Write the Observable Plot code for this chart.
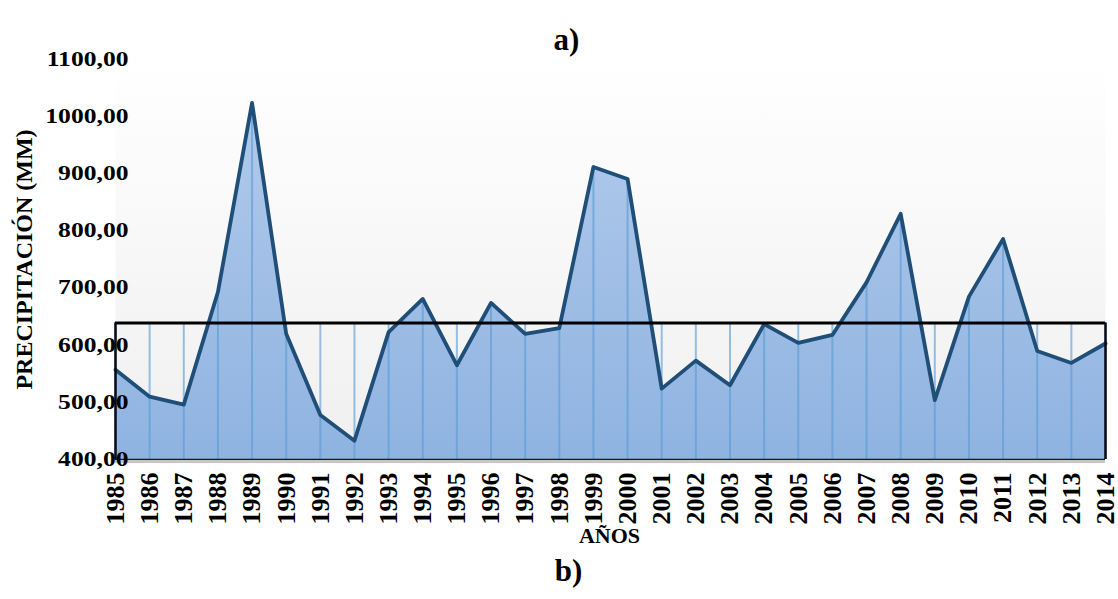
<!DOCTYPE html>
<html>
<head>
<meta charset="utf-8">
<script src="https://cdn.jsdelivr.net/npm/d3@7"></script>
<script src="https://cdn.jsdelivr.net/npm/@observablehq/plot@0.6"></script>
<style>
  body { margin: 0; background: #ffffff; }
  #chart svg { display: block; }
</style>
</head>
<body>
<div id="chart"></div>
<script>
// Annual precipitation (mm), 1985–2014
const years = [1985, 1986, 1987, 1988, 1989, 1990, 1991, 1992, 1993, 1994,
               1995, 1996, 1997, 1998, 1999, 2000, 2001, 2002, 2003, 2004,
               2005, 2006, 2007, 2008, 2009, 2010, 2011, 2012, 2013, 2014];
const precipitation = [557, 510, 496, 693, 1024, 620, 478, 433, 623, 681,
                       565, 674, 620, 630, 912, 891, 524, 573, 530, 637,
                       604, 618, 710, 830, 504, 685, 786, 590, 569, 603];
const yTicks = [400, 500, 600, 700, 800, 900, 1000, 1100];

const panelTop = "a)";
const panelBottom = "b)";
const xTitle = "AÑOS";
const yTitle = "PRECIPITACIÓN (MM)";

const data = years.map((year, i) => ({year, value: precipitation[i]}));
const mean = d3.mean(precipitation);
const baseline = yTicks[0];
const comma = d => d3.format(".2f")(d).replace(".", ",");
const serif = "'Liberation Serif', 'Times New Roman', serif";

const chart = Plot.plot({
  width: 1118,
  height: 599,
  marginTop: 59,
  marginBottom: 140,
  marginLeft: 115,
  marginRight: 13,
  style: {fontFamily: serif, fontWeight: "bold", color: "#000", background: "transparent", overflow: "visible"},
  x: {type: "linear", domain: [years[0], years[years.length - 1]]},
  y: {domain: [baseline, yTicks[yTicks.length - 1]]},
  marks: [
    // plot-area background
    Plot.frame({fill: "url(#plotBg)", stroke: null}),
    // filled precipitation area
    Plot.areaY(data, {x: "year", y1: baseline, y2: "value", fill: "url(#areaFill)"}),
    // drop lines per year, reaching up to the data or the mean box
    Plot.ruleX(data, {x: "year", y1: baseline, y2: d => Math.max(d.value, mean),
                      stroke: "#5b9bd5", strokeOpacity: 0.62, strokeWidth: 2}),
    // series outline
    Plot.lineY(data, {x: "year", y: "value", stroke: "#1f4e79", strokeWidth: 3.8, strokeLinejoin: "round"}),
    // mean box: top edge and side edges
    Plot.ruleY([mean], {stroke: "#000", strokeWidth: 3}),
    Plot.ruleX([years[0], years[years.length - 1]], {y1: baseline, y2: mean, stroke: "#0a0a14", strokeWidth: 2.5}),
    // bottom axis line (double)
    Plot.ruleY([baseline], {stroke: "#1a1a1a", strokeWidth: 1.5}),
    Plot.ruleY([baseline], {stroke: "#b4b4b4", strokeWidth: 1.5, dy: 2.5}),
    // axes
    Plot.axisY({ticks: yTicks, tickFormat: comma, tickSize: 0, tickPadding: 0, dx: 13,
                fontSize: 20, fontWeight: "bold", label: null}),
    Plot.axisX({ticks: years, tickFormat: "d", tickSize: 0, tickPadding: 13, tickRotate: -90,
                fontSize: 26, fontWeight: "bold", label: null}),
    // titles
    Plot.text([yTitle], {frameAnchor: "left", textAnchor: "middle", dx: -91, rotate: -90,
                         fontSize: 24, fontWeight: "bold", fill: "#000"}),
    Plot.text([xTitle], {frameAnchor: "bottom", dy: 83, dx: -1, fontSize: 22, fontWeight: "bold", fill: "#000"}),
    Plot.text([panelTop], {frameAnchor: "top", dy: -32, dx: -44, fontSize: 31, fontWeight: "bold", fill: "#000"}),
    Plot.text([panelBottom], {frameAnchor: "bottom", dy: 121, dx: -42, fontSize: 31, fontWeight: "bold", fill: "#000"})
  ]
});

// gradients used by the background and the area fill
const defs = d3.select(chart).insert("defs", ":first-child");
function vGradient(id, top, bottom) {
  const g = defs.append("linearGradient")
    .attr("id", id)
    .attr("gradientUnits", "userSpaceOnUse")
    .attr("x1", 0).attr("x2", 0).attr("y1", 59).attr("y2", 459);
  g.append("stop").attr("offset", "0%").attr("stop-color", top);
  g.append("stop").attr("offset", "100%").attr("stop-color", bottom);
}
vGradient("plotBg", "#ffffff", "#efefef");
vGradient("areaFill", "#b5cdec", "#8fb3e1");

// widen the value labels horizontally around their right-hand anchor
d3.select(chart).selectAll("text").each(function() {
  if (!/,00$/.test(this.textContent)) return;
  const t = this.getAttribute("transform") || "";
  const x = +this.getAttribute("x") || 0, y = +this.getAttribute("y") || 0;
  this.setAttribute("transform", `${t} translate(${x},${y}) scale(1.28,1) translate(${-x},${-y})`);
});

document.getElementById("chart").append(chart);
</script>
</body>
</html>
